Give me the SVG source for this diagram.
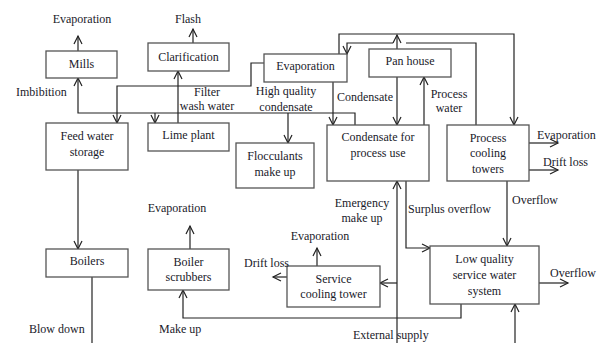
<svg xmlns="http://www.w3.org/2000/svg" width="598" height="343" viewBox="0 0 598 343">
<style>
rect.b{fill:#fff;stroke:#555;stroke-width:1.3}
text{font-family:"Liberation Serif","Times New Roman",serif;font-size:12px;fill:#1a1a2a}
.c{text-anchor:middle}
#connectors path{fill:none;stroke:#222;stroke-width:1.2}
</style>
<defs>
<marker id="a" markerUnits="userSpaceOnUse" markerWidth="12" markerHeight="12" refX="9" refY="5" orient="auto">
<path d="M1,1 L9,5 L1,9" fill="none" stroke="#222" stroke-width="1.2"/>
</marker>
</defs>
<rect width="598" height="343" fill="#fff"/>
<g id="connectors">
<path d="M78,51 V36" marker-end="url(#a)"/>
<path d="M193,43 V29" marker-end="url(#a)"/>
<path d="M264,63 H251 V86 H117 V123" marker-end="url(#a)"/>
<path d="M355,125 V113 H78 V78" marker-end="url(#a)"/>
<path d="M155,113 V123" marker-end="url(#a)"/>
<path d="M288,113 V143" marker-end="url(#a)"/>
<path d="M333,82 V125" marker-end="url(#a)"/>
<path d="M178,123 V71" marker-end="url(#a)"/>
<path d="M339,54 V34 H514 V125" marker-end="url(#a)"/>
<path d="M476,125 V43 H406"/>
<path d="M393,43 H347 V54" marker-end="url(#a)"/>
<path d="M397,49 V35" marker-end="url(#a)"/>
<path d="M397,77 V125" marker-end="url(#a)"/>
<path d="M424,125 V77" marker-end="url(#a)"/>
<path d="M529,143 H558" marker-end="url(#a)"/>
<path d="M529,170 H558" marker-end="url(#a)"/>
<path d="M507,181 V246" marker-end="url(#a)"/>
<path d="M406,181 V248 H430" marker-end="url(#a)"/>
<path d="M397,343 V181" marker-end="url(#a)"/>
<path d="M397,283 H380" marker-end="url(#a)"/>
<path d="M317,266 V248" marker-end="url(#a)"/>
<path d="M287,277 H273" marker-end="url(#a)"/>
<path d="M461,304 V318 H183 V290" marker-end="url(#a)"/>
<path d="M539,283 H568" marker-end="url(#a)"/>
<path d="M515,343 V304" marker-end="url(#a)"/>
<path d="M78,170 V249" marker-end="url(#a)"/>
<path d="M92,277 V343"/>
<path d="M190,249 V226" marker-end="url(#a)"/>
</g>
<g id="mills"><rect class="b" x="46" y="51" width="71" height="27"/><text class="c" x="81.5" y="68">Mills</text></g>
<g id="clarification"><rect class="b" x="148" y="43" width="81" height="28"/><text class="c" x="188.5" y="61">Clarification</text></g>
<g id="evaporation"><rect class="b" x="264" y="54" width="83" height="28"/><text class="c" x="305.5" y="70">Evaporation</text></g>
<g id="panhouse"><rect class="b" x="369" y="49" width="82" height="28"/><text class="c" x="410" y="65">Pan house</text></g>
<g id="feedwater"><rect class="b" x="46" y="123" width="82" height="47"/><text class="c" x="87" y="140">Feed water</text><text class="c" x="87" y="156">storage</text></g>
<g id="limeplant"><rect class="b" x="148" y="123" width="81" height="28"/><text class="c" x="188.5" y="139">Lime plant</text></g>
<g id="flocculants"><rect class="b" x="236" y="143" width="78" height="45"/><text class="c" x="275" y="160">Flocculants</text><text class="c" x="275" y="176">make up</text></g>
<g id="condensate"><rect class="b" x="327" y="125" width="102" height="56"/><text class="c" x="378" y="141">Condensate for</text><text class="c" x="378" y="157">process use</text></g>
<g id="pct"><rect class="b" x="447" y="125" width="82" height="56"/><text class="c" x="488" y="142">Process</text><text class="c" x="488" y="157">cooling</text><text class="c" x="488" y="173">towers</text></g>
<g id="boilers"><rect class="b" x="46" y="249" width="82" height="28"/><text class="c" x="87" y="265">Boilers</text></g>
<g id="scrubbers"><rect class="b" x="148" y="249" width="81" height="41"/><text class="c" x="188.5" y="266">Boiler</text><text class="c" x="188.5" y="281">scrubbers</text></g>
<g id="sct"><rect class="b" x="287" y="266" width="93" height="41"/><text class="c" x="333.5" y="283">Service</text><text class="c" x="333.5" y="298">cooling tower</text></g>
<g id="lowquality"><rect class="b" x="430" y="246" width="109" height="58"/><text class="c" x="484.5" y="263">Low quality</text><text class="c" x="484.5" y="279">service water</text><text class="c" x="484.5" y="295">system</text></g>
<g id="labels">
<text class="c" x="82" y="23">Evaporation</text>
<text class="c" x="188" y="23">Flash</text>
<text x="16" y="96">Imbibition</text>
<text class="c" x="207" y="96">Filter</text>
<text class="c" x="207" y="110">wash water</text>
<text class="c" x="286" y="95">High quality</text>
<text class="c" x="286" y="111">condensate</text>
<text x="337" y="101">Condensate</text>
<text class="c" x="449" y="98">Process</text>
<text class="c" x="449" y="112">water</text>
<text x="537" y="139">Evaporation</text>
<text x="543" y="166">Drift loss</text>
<text x="512" y="204">Overflow</text>
<text x="408" y="213">Surplus overflow</text>
<text class="c" x="362" y="207">Emergency</text>
<text class="c" x="362" y="222">make up</text>
<text class="c" x="177" y="212">Evaporation</text>
<text class="c" x="320" y="240">Evaporation</text>
<text x="244" y="267">Drift loss</text>
<text x="550" y="277">Overflow</text>
<text x="353" y="339">External supply</text>
<text x="29" y="333">Blow down</text>
<text x="159" y="333">Make up</text>
</g>
</svg>
